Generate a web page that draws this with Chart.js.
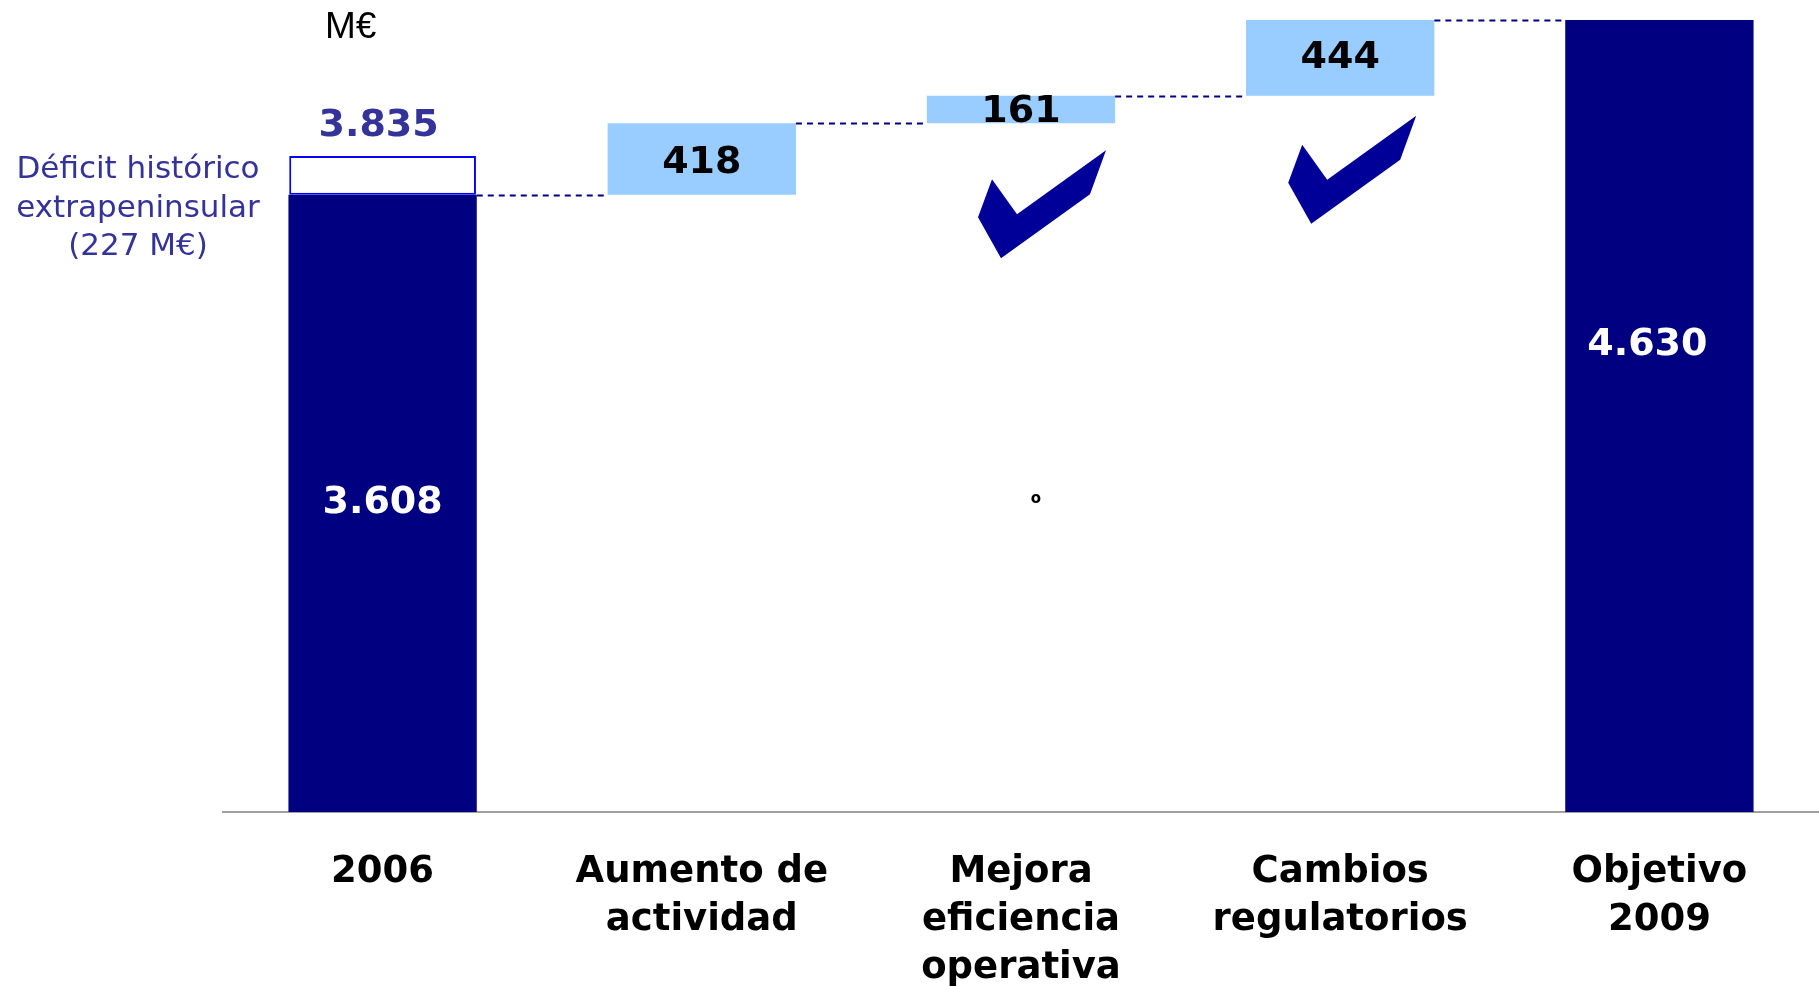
<!DOCTYPE html>
<html>
<head>
<meta charset="utf-8">
<script src="https://cdn.jsdelivr.net/npm/chart.js@4"></script>
<style>
  html, body { margin: 0; background: #fff; }
  #wrap { width: 1819px; height: 986px; }
</style>
</head>
<body>
<div id="wrap"><canvas id="chart"></canvas></div>
<script>
// datos del gráfico (M€)
const categories = [['2006'], ['Aumento de', 'actividad'], ['Mejora', 'eficiencia', 'operativa'], ['Cambios', 'regulatorios'], ['Objetivo', '2009']];
const barValues = [3608, 418, 161, 444, 4630];
const barKinds = ['total', 'step', 'step', 'step', 'total'];
const deficitValue = 227;
const deficitText = ['Déficit histórico', 'extrapeninsular', '(227 M€)'];
const unitText = 'M€';
const checkedSteps = [2, 3];

const DARK = '#000080';
const LIGHT = '#99CCFF';
const PURPLE = '#333399';

function fmt(n) {
  return String(n).replace(/\B(?=(\d{3})+(?!\d))/g, '.');
}

// barras flotantes de la cascada
let running = 0;
const floating = barValues.map((v, i) => {
  if (barKinds[i] === 'total') {
    running = v;
    return [0, v];
  }
  const r = [running, running + v];
  running += v;
  return r;
});
const deficitBar = categories.map((c, i) => i === 0 ? [barValues[0], barValues[0] + deficitValue] : null);

const waterfallPlugin = {
  id: 'waterfall',
  afterDatasetsDraw(chart) {
    const ctx = chart.ctx;
    const y = chart.scales.y;
    const bars = chart.getDatasetMeta(1).data;
    const box = chart.getDatasetMeta(0).data[0];

    ctx.save();

    // conectores punteados
    ctx.strokeStyle = DARK;
    ctx.lineWidth = 2;
    ctx.setLineDash([6, 5]);
    for (let i = 0; i < bars.length - 1; i++) {
      const yy = Math.round(y.getPixelForValue(floating[i][1])) + 0.5;
      ctx.beginPath();
      ctx.moveTo(bars[i].x + bars[i].width / 2, yy);
      ctx.lineTo(bars[i + 1].x - bars[i + 1].width / 2, yy);
      ctx.stroke();
    }
    ctx.setLineDash([]);

    // valores dentro de las barras
    const labelFrac = [0.5, 0.55, 0.6, 0.5, 0.41];
    const labelDx = [0, 0, 0, 0, -12];
    ctx.font = 'bold 38px "DejaVu Sans"';
    ctx.textAlign = 'center';
    ctx.textBaseline = 'middle';
    bars.forEach((b, i) => {
      const top = y.getPixelForValue(floating[i][1]);
      const bottom = y.getPixelForValue(floating[i][0]);
      ctx.fillStyle = barKinds[i] === 'total' ? '#fff' : '#000';
      ctx.fillText(fmt(barValues[i]), b.x + labelDx[i], top + (bottom - top) * labelFrac[i]);
    });

    // total con déficit
    ctx.fillStyle = PURPLE;
    ctx.fillText(fmt(barValues[0] + deficitValue), box.x - 4, box.y - 30);

    // texto del déficit
    ctx.font = '31px "DejaVu Sans"';
    deficitText.forEach((t, k) => {
      ctx.fillText(t, chart.chartArea.left - 85, box.y + 14 + k * 38.5);
    });

    // unidad
    ctx.fillStyle = '#000';
    ctx.font = '37px "Liberation Sans"';
    ctx.fillText(unitText, box.x - 32, 28);

    // marcas de verificación
    const shape = [[-43, 67], [-29, 29], [-4, 64], [85, 0], [69, 44], [-20, 108]];
    const shift = { 2: [0, 27], 3: [-9, 20] };
    ctx.fillStyle = '#000099';
    checkedSteps.forEach(i => {
      const cx = bars[i].x + shift[i][0];
      const top = y.getPixelForValue(floating[i][0]) + shift[i][1];
      ctx.beginPath();
      shape.forEach(([dx, dy], k) => k ? ctx.lineTo(cx + dx, top + dy) : ctx.moveTo(cx + dx, top + dy));
      ctx.closePath();
      ctx.fill();
    });

    // pequeño símbolo suelto
    ctx.fillStyle = '#000';
    ctx.font = 'bold 15px "DejaVu Sans"';
    ctx.fillText('o', bars[2].x + 15, 499);

    ctx.restore();
  }
};

new Chart(document.getElementById('chart'), {
  type: 'bar',
  data: {
    labels: categories,
    datasets: [
      {
        data: deficitBar,
        backgroundColor: '#fff',
        borderColor: '#0000FF',
        borderWidth: 2,
        borderSkipped: false,
        grouped: false,
        barPercentage: 0.585,
        categoryPercentage: 1,
        order: 2
      },
      {
        data: floating,
        backgroundColor: barKinds.map(k => k === 'total' ? DARK : LIGHT),
        borderWidth: 0,
        grouped: false,
        barPercentage: 0.59,
        categoryPercentage: 1,
        order: 1
      }
    ]
  },
  options: {
    responsive: true,
    maintainAspectRatio: false,
    animation: false,
    layout: { padding: { left: 223, top: 20, right: 0, bottom: 0 } },
    plugins: {
      legend: { display: false },
      tooltip: { enabled: false }
    },
    scales: {
      x: {
        grid: { display: false },
        border: { display: true, color: '#A0A0A0', width: 2 },
        ticks: {
          color: '#000',
          padding: 28,
          font: { family: 'DejaVu Sans', size: 37, weight: 'bold', lineHeight: 1.3 }
        },
        afterFit(scale) { scale.height = 174; }
      },
      y: {
        display: false,
        min: 0,
        max: 4630
      }
    }
  },
  plugins: [waterfallPlugin]
});
</script>
</body>
</html>
